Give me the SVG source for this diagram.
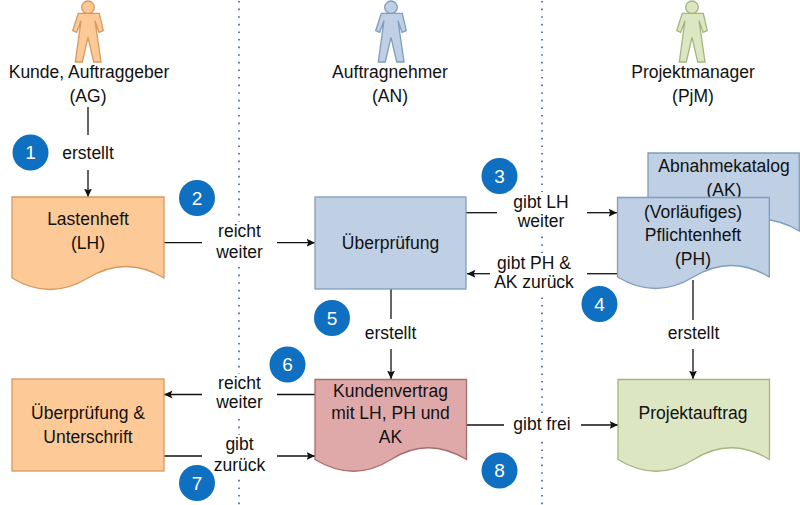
<svg xmlns="http://www.w3.org/2000/svg" width="800" height="505" viewBox="0 0 800 505">
<style>
text{font-family:"Liberation Sans",Arial,sans-serif;font-size:17.5px;fill:#111;text-anchor:middle}
.c{fill:none;stroke:#111;stroke-width:1.3}
.a{marker-end:url(#ah)}
.d{fill:none;stroke:#3d5f8f;stroke-width:1.6;stroke-dasharray:1.6 6}
.n{fill:#0f6fc0}
.nt{fill:#fff;font-size:19px}
.blue{fill:#bfcfe4;stroke:#7e9dc0;stroke-width:1.3}
.or{fill:#fdc997;stroke:#d6995f;stroke-width:1.3}
.red{fill:#e0a9a9;stroke:#a96c6c;stroke-width:1.3}
.gr{fill:#dde6c3;stroke:#a3b77c;stroke-width:1.3}
</style>
<defs>
<marker id="ah" markerUnits="userSpaceOnUse" markerWidth="9" markerHeight="9" refX="8.5" refY="4" orient="auto"><path d="M0 0L8.5 4L0 8L1.8 4Z" fill="#111"/></marker>
<g id="actor">
<circle cx="0" cy="7.3" r="6.3"/>
<path d="M-9.7 13.3H11.3L15.3 30.7L11 32.3L7 20.7L13 62H5.7L0 37.3L-5.7 62H-12.7L-7 20.7L-11.3 32.3L-15.3 30.7Z"/>
</g>
</defs>
<g id="swimlanes">
<line class="d" x1="239" y1="1" x2="239" y2="505"/>
<line class="d" x1="542" y1="1" x2="542" y2="505"/>
</g>
<g id="connectors">
<path class="c" d="M88 107V135"/>
<path class="c a" d="M88 170V197"/>
<path class="c" d="M164 242.7H202"/>
<path class="c a" d="M277 242.7H315"/>
<path class="c" d="M466 212.7H497"/>
<path class="c a" d="M587 212.7H617"/>
<path class="c" d="M617 273.7H587"/>
<path class="c a" d="M497 273.7H467"/>
<path class="c" d="M391 289V319"/>
<path class="c a" d="M391 349V379"/>
<path class="c" d="M693 280V320"/>
<path class="c a" d="M693 349V379"/>
<path class="c" d="M315 394.5H277"/>
<path class="c a" d="M202 394.5H164"/>
<path class="c" d="M164 456H202"/>
<path class="c a" d="M277 456H315"/>
<path class="c" d="M466 425H504"/>
<path class="c a" d="M581 425H618"/>
</g>
<g id="actor-ag"><use href="#actor" x="88" class="or"/><text x="89" y="78">Kunde, Auftraggeber</text><text x="88" y="102">(AG)</text></g>
<g id="actor-an"><use href="#actor" x="391" class="blue"/><text x="390" y="78">Auftragnehmer</text><text x="390" y="102">(AN)</text></g>
<g id="actor-pjm"><use href="#actor" x="692" class="gr"/><text x="693" y="78">Projektmanager</text><text x="693" y="102">(PjM)</text></g>
<g id="lastenheft"><path class="or" d="M12 197H164V278Q126 255 88 278T12 278Z"/><text x="88" y="225">Lastenheft</text><text x="88" y="249">(LH)</text></g>
<g id="ueberpruefung"><rect class="blue" x="315" y="197" width="151" height="92"/><text x="390.5" y="249">Überprüfung</text></g>
<g id="abnahmekatalog"><path class="blue" d="M648 153H799.3V231Q761 208 723.500 231T648 231Z"/><text x="724" y="172">Abnahmekatalog</text><text x="724" y="196">(AK)</text></g>
<g id="pflichtenheft"><path class="blue" d="M617.500 197.500H769.300V277Q731 254 693.400 277T617.500 277Z"/><text x="693" y="218">(Vorläufiges)</text><text x="693" y="241">Pflichtenheft</text><text x="693" y="265">(PH)</text></g>
<g id="unterschrift"><rect class="or" x="12" y="379" width="152" height="92"/><text x="88" y="419">Überprüfung &amp;</text><text x="88" y="443">Unterschrift</text></g>
<g id="kundenvertrag"><path class="red" d="M315 379.500H466.500V459.500Q428 436 391 459.500T315 459.500Z"/><text x="390.500" y="397">Kundenvertrag</text><text x="390.500" y="419">mit LH, PH und</text><text x="390.500" y="443">AK</text></g>
<g id="projektauftrag"><path class="gr" d="M618 379.500H769.500V459.500Q731 436 693.700 459.500T618 459.500Z"/><text x="693" y="419">Projektauftrag</text></g>
<g id="labels">
<rect x="60" y="140" width="56" height="24" fill="#fff"/><text x="88" y="159">erstellt</text>
<rect x="203" y="222" width="73" height="42" fill="#fff"/><text x="239.500" y="237">reicht</text><text x="239.500" y="258">weiter</text>
<rect x="498" y="192" width="88" height="40" fill="#fff"/><text x="541" y="208">gibt LH</text><text x="541" y="227">weiter</text>
<rect x="490" y="253" width="96" height="40" fill="#fff"/><text x="534" y="269">gibt PH &amp;</text><text x="534" y="288">AK zurück</text>
<rect x="361" y="322" width="60" height="24" fill="#fff"/><text x="390.500" y="339">erstellt</text>
<rect x="663" y="322" width="60" height="24" fill="#fff"/><text x="693.500" y="339">erstellt</text>
<rect x="203" y="374" width="73" height="40" fill="#fff"/><text x="239.500" y="389">reicht</text><text x="239.500" y="408">weiter</text>
<rect x="203" y="435" width="73" height="40" fill="#fff"/><text x="239.500" y="450">gibt</text><text x="239.500" y="471">zurück</text>
<rect x="505" y="413" width="75" height="24" fill="#fff"/><text x="542" y="430">gibt frei</text>
</g>
<g id="badges">
<g id="badge-1"><circle class="n" cx="30.500" cy="152.500" r="18"/><text class="nt" x="30.500" y="159">1</text></g>
<g id="badge-2"><circle class="n" cx="197" cy="198" r="18"/><text class="nt" x="197" y="204.500">2</text></g>
<g id="badge-3"><circle class="n" cx="499.500" cy="176" r="18"/><text class="nt" x="499.500" y="182.500">3</text></g>
<g id="badge-4"><circle class="n" cx="599.500" cy="304" r="18"/><text class="nt" x="599.500" y="310.500">4</text></g>
<g id="badge-5"><circle class="n" cx="332" cy="318" r="18"/><text class="nt" x="332" y="324.500">5</text></g>
<g id="badge-6"><circle class="n" cx="287.500" cy="364.500" r="18"/><text class="nt" x="287.500" y="371">6</text></g>
<g id="badge-7"><circle class="n" cx="197" cy="483" r="18"/><text class="nt" x="197" y="489.500">7</text></g>
<g id="badge-8"><circle class="n" cx="499.500" cy="470.500" r="18"/><text class="nt" x="499.500" y="477">8</text></g>
</g>
</svg>
